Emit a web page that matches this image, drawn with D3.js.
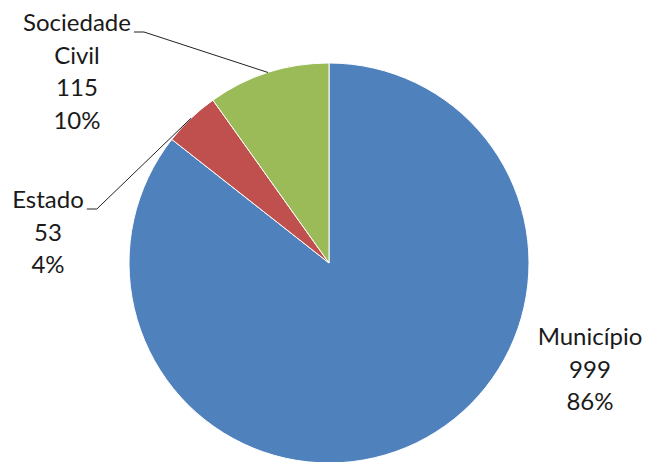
<!DOCTYPE html>
<html><head><meta charset="utf-8">
<script src="https://cdn.jsdelivr.net/npm/d3@7"></script>
<style>body{margin:0;background:#fff;}svg{display:block;}</style>
</head><body>
<svg id="c" width="648" height="462"></svg>
<script>
const categories = ["Município", "Estado", "Sociedade Civil"];
const values = [999, 53, 115];
const percentLabels = ["86%", "4%", "10%"];
const nameLines = [["Município"], ["Estado"], ["Sociedade", "Civil"]];
const colors = ["#4F81BD", "#C0504D", "#9BBB59"];

const W = 648, H = 462, cx = 329, cy = 263, R = 200;
const fontSize = 24, lineH = 32.5;
// label layout: center x and first baseline; leader start (if any)
const layout = [
  {x: 590, y: 345, leader: false},
  {x: 48, y: 208, leader: true},
  {x: 77, y: 31, leader: true}
];

const svg = d3.select("#c");
const g = svg.append("g").attr("transform", `translate(${cx},${cy})`);
const pie = d3.pie().sort(null).value(d => d)(values);
const arc = d3.arc().innerRadius(0).outerRadius(R);

g.selectAll("path").data(pie).join("path")
  .attr("d", arc)
  .attr("fill", (d, i) => colors[i])
  .attr("stroke", "#fff").attr("stroke-width", 1);

const font = "Lato, 'Open Sans', sans-serif";
pie.forEach((d, i) => {
  const L = layout[i];
  const lines = nameLines[i].concat([String(values[i]), percentLabels[i]]);
  const t = svg.append("text")
    .attr("font-family", font).attr("font-size", fontSize)
    .attr("fill", "#1a1a1a").attr("text-anchor", "middle");
  lines.forEach((s, k) => {
    t.append("tspan").attr("x", L.x).attr("y", L.y + k * lineH).text(s);
  });
  if (L.leader) {
    const first = t.select("tspan").node();
    const w = first.getComputedTextLength();
    const x0 = L.x + w / 2 + 3, y0 = L.y + 1;
    const mid = (d.startAngle + d.endAngle) / 2;
    const px = cx + R * Math.sin(mid), py = cy - R * Math.cos(mid);
    svg.append("path")
      .attr("d", `M${x0},${y0}L${x0 + 10},${y0}L${px},${py}`)
      .attr("fill", "none").attr("stroke", "#222").attr("stroke-width", 1);
  }
});
</script>
</body></html>
